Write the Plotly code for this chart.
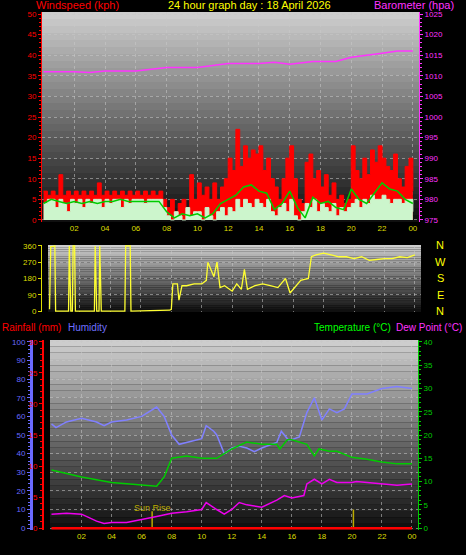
import plotly.graph_objects as go

W, H = 466, 555
# ---- data ----
t_q = [i * 0.25 for i in range(97)]
gust = [7,6,7,6,11,6,7,6,7,6,7,6,7,6,9,6,7,6,7,6,7,6,7,6,7,6,7,6,7,6,7,
        5,3,5,2,4,5,3,11,5,
        9,6,8,5,9,5,8,10,
        15,12,22,13,18,15,17,16,18,12,15,10,
        8,5,10,15,18,10,5,4,
        14,16,10,12,8,11,6,9,
        5,6,4,5,
        18,12,10,15,11,17,14,18,15,13,12,16,10,8,13,15,
        7]
avgw = [4,5,5,3,5,4,2,5,4,5,3,5,4,5,5,3,5,4,5,5,3,5,4,5,5,5,4,5,5,5,5,
        3,1,0,2,1,0,3,1,2,
        2,0,3,1,0,2,3,1,
        3,2,5,3,5,4,3,5,4,3,5,2,
        1,3,4,2,5,1,0,2,
        4,3,5,2,4,3,2,4,
        1,3,2,3,
        4,5,3,5,4,6,5,5,6,5,4,5,5,4,5,5,
        2]
t_h = [i * 0.5 for i in range(49)]
wind_trend = [4,5,4.5,4,4.5,4,4.5,4,4.5,4.5,5,4.5,4.5,4.5,4.5,4.5,2,0.5,1.5,1,1.5,0.5,1.5,4,5,6,8,8.5,7,6.5,
              2.5,4,7,3,0.5,5.5,4,4.5,3,2.5,7.5,5,4,6.5,9,7.5,7,5,4]
baro_t = [0,2,3,4,6,8,10,12,14,15,16,17.5,19,20,22,23,24]
baro = [1011,1011,1010.8,1011.2,1011.2,1012,1012,1013,1013,1013.3,1012.8,1013.5,1013.5,1014.5,1015.5,1016,1016]
dir_t = [0,0.08,0.1,0.35,0.4,1.25,1.3,1.4,1.5,1.55,1.65,1.7,2.95,3.0,3.1,3.25,3.3,3.4,4.95,5.0,5.3,5.35,
         7.9,8.0,8.1,8.4,8.5,8.7,9,9.5,10,10.3,10.4,10.6,10.8,11,11.2,11.5,12,12.3,12.6,12.8,13,13.5,14,14.5,15,15.3,15.5,15.8,16,16.5,17,17.2,17.5,18,18.5,19,19.5,20,20.5,21,21.5,22,22.5,23,23.5,24]
wdir = [10,360,355,360,0,0,360,0,0,360,360,0,0,360,0,0,360,0,0,360,360,0,
        5,10,150,150,60,140,140,150,150,170,270,230,190,270,130,140,110,150,120,230,120,140,150,140,130,160,180,100,120,170,180,300,310,320,310,300,300,290,300,280,285,290,290,300,295,310]
hum_t = [0,0.3,1,2,3,3.5,4,5,6,7,7.5,8,8.5,9,10,10.3,10.8,11,11.5,12,12.5,13,13.5,14,15,15.3,15.8,16.5,17,17.5,18,18.5,19,19.5,20,21,22,23,24]
hum = [56,54,57,59,57,55,57,58,60,65,60,50,45,46,48,55,52,50,40,43,44,43,41,43,46,52,47,49,62,70,58,64,62,64,72,72,75,76,75]
temp_t = [0,2,4,6,7,7.5,8,9,10,11,12,13,14,15,15.2,15.7,16,17,17.5,17.8,18.5,19,20,21,22,23,24]
temp = [12.5,11,9.8,9.2,9,11,15,15.5,15,15,17,18.5,18,18,17,19,19,18,15.5,17,16.5,16.5,15.2,14.8,14.2,13.8,13.8]
dew_t = [0,1,2,3,3.5,4,5,6,7,8,9,10,10.3,11,11.5,12,12.5,13,14,15,15.5,16,16.8,17,17.5,18,18.5,19,20,20.3,21,22,23,24]
dew = [3,3.2,3,1.5,1,1.2,1.2,1.8,2.5,3.2,3.5,4,5.5,4,3,4,5.5,5,4.5,6,7,6.5,7,9.5,10.5,9.5,10.5,9.8,9.8,10,9.8,9.5,9.2,9.5]
rain_t = [0, 24]
rain = [0, 0]
xt_vals = list(range(2, 25, 2))
xt_text = ["02","04","06","08","10","12","14","16","18","20","22","00"]

def dx(a, b): return [a / W, b / W]
def dy(top, bot): return [1 - bot / H, 1 - top / H]

fig = go.Figure()
F = "Liberation Sans"
TF = 8
fig.add_trace(go.Scatter(x=t_q, y=gust, mode="lines", line=dict(color="#ff0000", width=1, shape="hv"), fill="tozeroy", fillcolor="#ff0000", xaxis="x", yaxis="y"))
fig.add_trace(go.Scatter(x=t_q, y=avgw, mode="lines", line=dict(color="#ccf5cc", width=1, shape="hv"), fill="tozeroy", fillcolor="#ccf5cc", xaxis="x", yaxis="y"))
fig.add_trace(go.Scatter(x=t_h, y=wind_trend, mode="lines", line=dict(color="#00cc00", width=1.5), xaxis="x", yaxis="y"))
fig.add_trace(go.Scatter(x=baro_t, y=baro, mode="lines", line=dict(color="#ff33ff", width=1.5), xaxis="x", yaxis="y2"))
fig.add_trace(go.Scatter(x=dir_t, y=wdir, mode="lines", line=dict(color="#ffff33", width=1.3), xaxis="x2", yaxis="y3"))
fig.add_trace(go.Scatter(x=hum_t, y=hum, mode="lines", line=dict(color="#8080ff", width=1.5), xaxis="x3", yaxis="y4"))
fig.add_trace(go.Scatter(x=temp_t, y=temp, mode="lines", line=dict(color="#00cc00", width=1.5), xaxis="x3", yaxis="y6"))
fig.add_trace(go.Scatter(x=dew_t, y=dew, mode="lines", line=dict(color="#ee00ee", width=1.5), xaxis="x3", yaxis="y6"))
fig.add_trace(go.Scatter(x=rain_t, y=rain, mode="lines", line=dict(color="#ff0000", width=2.5), xaxis="x3", yaxis="y5"))
fig.add_trace(go.Scatter(x=[6.7, 6.7], y=[0, 9], mode="lines", line=dict(color="#bbaa00", width=1.5), xaxis="x3", yaxis="y4"))
fig.add_trace(go.Scatter(x=[20.1, 20.1], y=[0, 10], mode="lines", line=dict(color="#bbaa00", width=1.5), xaxis="x3", yaxis="y4"))

GC = "rgba(200,200,200,0.55)"
xcommon = dict(range=[-0.1, 24.4], tickvals=xt_vals, ticktext=xt_text, tickfont=dict(color="#dddd00", size=TF, family=F),
               showgrid=True, gridcolor=GC, griddash="dot", zeroline=False, showline=False, ticks="", automargin=False)
def yax(col, **kw):
    d = dict(showgrid=False, zeroline=False, ticks="outside", ticklen=3, tickcolor=col, showline=True, linecolor=col,
             linewidth=1, automargin=False, tickfont=dict(color=col, size=TF, family=F))
    d.update(kw)
    return d

p1x, p1y = dx(42, 419), dy(12, 222)
p2x, p2y = dx(48, 421), dy(245, 312)
p3x, p3y = dx(50, 418), dy(340, 530)
layout = dict(
    width=W, height=H, margin=dict(l=0, r=0, t=0, b=0, autoexpand=False), paper_bgcolor="black", plot_bgcolor="black", showlegend=False,
    xaxis=dict(xcommon, domain=p1x, anchor="y"),
    yaxis=yax("#ff0000", domain=p1y, range=[-0.5, 50.5], dtick=5, showgrid=True, gridcolor=GC, griddash="dot",
              minor=dict(ticks="outside", ticklen=2, dtick=1, tickcolor="#ff0000")),
    yaxis2=yax("#ff33ff", domain=p1y, range=[974.5, 1025.5], dtick=5, overlaying="y", side="right", anchor="x",
               minor=dict(ticks="outside", ticklen=2, dtick=1, tickcolor="#ff33ff")),
    xaxis2=dict(xcommon, domain=p2x, anchor="y3", showticklabels=False),
    yaxis3=yax("#dddd00", domain=p2y, range=[-5, 365], tickvals=[0, 90, 180, 270, 360], showgrid=True, gridcolor=GC, griddash="dot"),
    xaxis3=dict(xcommon, domain=p3x, anchor="y4"),
    yaxis4=yax("#6a6aff", domain=p3y, range=[-1, 101], dtick=10, anchor="free", position=31 / W, linewidth=3,
               showgrid=True, gridcolor=GC, griddash="dot", minor=dict(ticks="outside", ticklen=2, dtick=2, tickcolor="#6a6aff")),
    yaxis5=yax("#ff0000", domain=p3y, range=[-0.3, 30.3], dtick=5, overlaying="y4", anchor="free", position=43 / W, side="left",
               linewidth=2, minor=dict(ticks="outside", ticklen=2, dtick=1, tickcolor="#ff0000")),
    yaxis6=yax("#00cc00", domain=p3y, range=[-0.4, 40.4], dtick=5, overlaying="y4", anchor="x3", side="right",
               minor=dict(ticks="outside", ticklen=2, dtick=1, tickcolor="#00cc00")),
)
fig.update_layout(**layout)

shapes = []
for xa, ya in [("x", "y"), ("x2", "y3"), ("x3", "y4")]:
    n = 30
    for i in range(n):
        f = i / n
        c = int(205 - 195 * f)
        shapes.append(dict(type="rect", xref=xa + " domain", yref=ya + " domain", x0=0, x1=1, y0=1 - (i + 1) / n, y1=1 - i / n,
                           fillcolor=f"rgb({c},{c},{c})", line=dict(width=0), layer="below"))
fig.update_layout(shapes=shapes)

ann = []
def txt(x, y, s, c, size=11, xa="left"):
    ann.append(dict(x=x / W, y=1 - y / H, xref="paper", yref="paper", text=s, showarrow=False, xanchor=xa, yanchor="middle",
                    font=dict(color=c, size=size, family=F)))
txt(34, 5, "Windspeed (kph)", "#ff0000", 11)
txt(250, 5, "24 hour graph day : 18 April 2026", "#ffff00", 11, xa="center")
txt(372, 5, "Barometer (hpa)", "#ff33ff", 11)
for i, s in enumerate(["N", "W", "S", "E", "N"]):
    txt(440, 245 + i * 16.5, s, "#ffff00", size=11, xa="center")
txt(0, 327, "Rainfall (mm)", "#ff0000", 10)
txt(66, 327, "Humidity", "#7070ff", 10)
txt(312, 327, "Temperature (°C)", "#00ff00", 10)
txt(394, 327, "Dew Point (°C)", "#ff33ff", 10)
txt(152, 508, "Sun Rise", "#bbaa00", 9, xa="center")
fig.update_layout(annotations=ann)
fig.write_html("out.html", config={"displayModeBar": False},
               post_script="document.body.style.margin='0';document.body.style.overflow='hidden';")
